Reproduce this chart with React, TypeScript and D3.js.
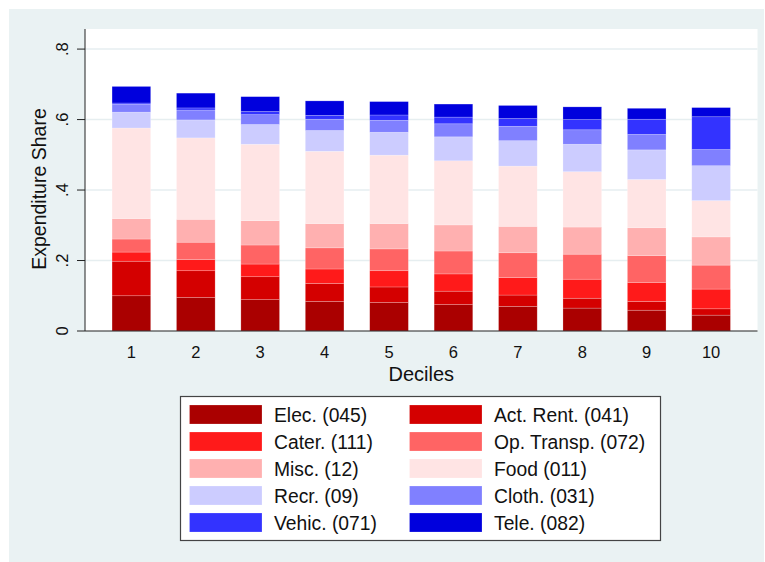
import { useEffect, useRef } from 'react';
import * as d3 from 'd3';

// deciles and stacked expenditure shares (bottom to top)
const deciles = [1, 2, 3, 4, 5, 6, 7, 8, 9, 10];
const categories = [
  'Elec. (045)',
  'Act. Rent. (041)',
  'Cater. (111)',
  'Op. Transp. (072)',
  'Misc. (12)',
  'Food (011)',
  'Recr. (09)',
  'Cloth. (031)',
  'Vehic. (071)',
  'Tele. (082)'
];
const colors = [
  '#aa0000', '#d40000', '#ff1a1a', '#ff6464', '#ffb0b0',
  '#ffe4e4', '#ccccff', '#8080ff', '#3333ff', '#0000dd'
];

const elec = [0.100, 0.095, 0.089, 0.084, 0.081, 0.075, 0.070, 0.065, 0.059, 0.045];
const actRent = [0.098, 0.076, 0.065, 0.051, 0.044, 0.038, 0.032, 0.028, 0.025, 0.018];
const cater = [0.026, 0.032, 0.036, 0.041, 0.046, 0.049, 0.050, 0.054, 0.054, 0.056];
const opTransp = [0.037, 0.049, 0.054, 0.060, 0.062, 0.065, 0.070, 0.071, 0.076, 0.068];
const misc = [0.058, 0.065, 0.069, 0.069, 0.072, 0.074, 0.075, 0.077, 0.079, 0.080];
const food = [0.257, 0.231, 0.217, 0.205, 0.194, 0.182, 0.171, 0.157, 0.137, 0.103];
const recr = [0.045, 0.051, 0.056, 0.059, 0.065, 0.068, 0.072, 0.078, 0.084, 0.099];
const cloth = [0.022, 0.028, 0.028, 0.032, 0.034, 0.037, 0.041, 0.041, 0.044, 0.046];
const vehic = [0.004, 0.006, 0.009, 0.011, 0.015, 0.019, 0.022, 0.029, 0.043, 0.093];
const tele = [0.047, 0.042, 0.042, 0.041, 0.038, 0.037, 0.037, 0.036, 0.031, 0.026];

const yTicks = [0, 0.2, 0.4, 0.6, 0.8];
const yTickLabels = ['0', '.2', '.4', '.6', '.8'];

const series = [elec, actRent, cater, opTransp, misc, food, recr, cloth, vehic, tele];

const FONT = 'Arial, "Liberation Sans", Helvetica, sans-serif';

export default function App() {
  const svgRef = useRef<SVGSVGElement | null>(null);

  useEffect(() => {
    if (!svgRef.current) return;
    const svg = d3.select(svgRef.current);
    svg.selectAll('*').remove();

    const plot = { left: 85, right: 757.5, top: 29, bottom: 331 };

    const x = d3.scaleLinear().domain([0.28, 10.72]).range([plot.left, plot.right]);
    const y = d3.scaleLinear().domain([0, 0.857]).range([plot.bottom, plot.top]);
    const barW = x(0.6) - x(0);

    // outer background
    svg.append('rect')
      .attr('x', 9).attr('y', 9).attr('width', 755).attr('height', 553)
      .attr('fill', '#eaf2f3');

    svg.append('rect')
      .attr('x', plot.left).attr('y', plot.top)
      .attr('width', plot.right - plot.left).attr('height', plot.bottom - plot.top)
      .attr('fill', '#ffffff');

    // gridlines
    svg.append('g')
      .selectAll('line')
      .data(yTicks.slice(1))
      .join('line')
      .attr('x1', plot.left).attr('x2', plot.right)
      .attr('y1', d => y(d)).attr('y2', d => y(d))
      .attr('stroke', '#e6eef0').attr('stroke-width', 1.5);

    // stacked bars
    const rows = deciles.map((d, i) => {
      const row: Record<string, number> = { decile: d };
      categories.forEach((c, k) => { row[c] = series[k][i]; });
      return row;
    });
    const stacked = d3.stack<Record<string, number>>().keys(categories)(rows);

    svg.append('g')
      .selectAll('g')
      .data(stacked)
      .join('g')
      .attr('fill', (_, k) => colors[k])
      .selectAll('rect')
      .data(s => s)
      .join('rect')
      .attr('x', d => x(d.data.decile) - barW / 2)
      .attr('width', barW)
      .attr('y', d => y(d[1]))
      .attr('height', d => y(d[0]) - y(d[1]))
      .attr('stroke', '#ffffff').attr('stroke-opacity', 0.35).attr('stroke-width', 0.6);

    // axes
    svg.append('line')
      .attr('x1', plot.left).attr('x2', plot.left)
      .attr('y1', plot.top).attr('y2', plot.bottom)
      .attr('stroke', '#222').attr('stroke-width', 1);
    svg.append('line')
      .attr('x1', plot.left).attr('x2', plot.right)
      .attr('y1', plot.bottom).attr('y2', plot.bottom)
      .attr('stroke', '#222').attr('stroke-width', 1.2);

    const yAxis = svg.append('g');
    yAxis.selectAll('line')
      .data(yTicks)
      .join('line')
      .attr('x1', 77).attr('x2', plot.left)
      .attr('y1', d => y(d)).attr('y2', d => y(d))
      .attr('stroke', '#222');
    yAxis.selectAll('text')
      .data(yTicks)
      .join('text')
      .attr('transform', d => `translate(68, ${y(d)}) rotate(-90)`)
      .attr('text-anchor', 'middle')
      .attr('font-family', FONT).attr('font-size', 16.5).attr('fill', '#111')
      .text((_, i) => yTickLabels[i]);

    svg.append('text')
      .attr('transform', `translate(46, ${(plot.top + plot.bottom) / 2 + 9}) rotate(-90)`)
      .attr('text-anchor', 'middle')
      .attr('font-family', FONT).attr('font-size', 19.5).attr('fill', '#111')
      .text('Expenditure Share');

    svg.append('g')
      .selectAll('text')
      .data(deciles)
      .join('text')
      .attr('x', d => x(d)).attr('y', 357.5)
      .attr('text-anchor', 'middle')
      .attr('font-family', FONT).attr('font-size', 16.5).attr('fill', '#111')
      .text(d => String(d));

    svg.append('text')
      .attr('x', (plot.left + plot.right) / 2).attr('y', 381)
      .attr('text-anchor', 'middle')
      .attr('font-family', FONT).attr('font-size', 20).attr('fill', '#111')
      .text('Deciles');

    // legend
    const legend = svg.append('g');
    legend.append('rect')
      .attr('x', 180.5).attr('y', 396.5).attr('width', 480).attr('height', 144)
      .attr('fill', '#ffffff').attr('stroke', '#444').attr('stroke-width', 1.2);

    const items = legend.selectAll('g')
      .data(categories)
      .join('g')
      .attr('transform', (_, i) => `translate(${i % 2 === 0 ? 189.5 : 409.5}, ${405 + Math.floor(i / 2) * 27})`);
    items.append('rect')
      .attr('width', 72.5).attr('height', 19)
      .attr('fill', (_, i) => colors[i])
      .attr('stroke', '#ffffff').attr('stroke-opacity', 0.35).attr('stroke-width', 0.6);
    items.append('text')
      .attr('x', 84.5).attr('y', 16.5)
      .attr('font-family', FONT).attr('font-size', 19.3).attr('fill', '#111')
      .text(d => d);
  }, []);

  return (
    <svg
      ref={svgRef}
      width={765}
      height={562}
      style={{ position: 'absolute', left: 0, top: 0, background: '#ffffff' }}
    />
  );
}
